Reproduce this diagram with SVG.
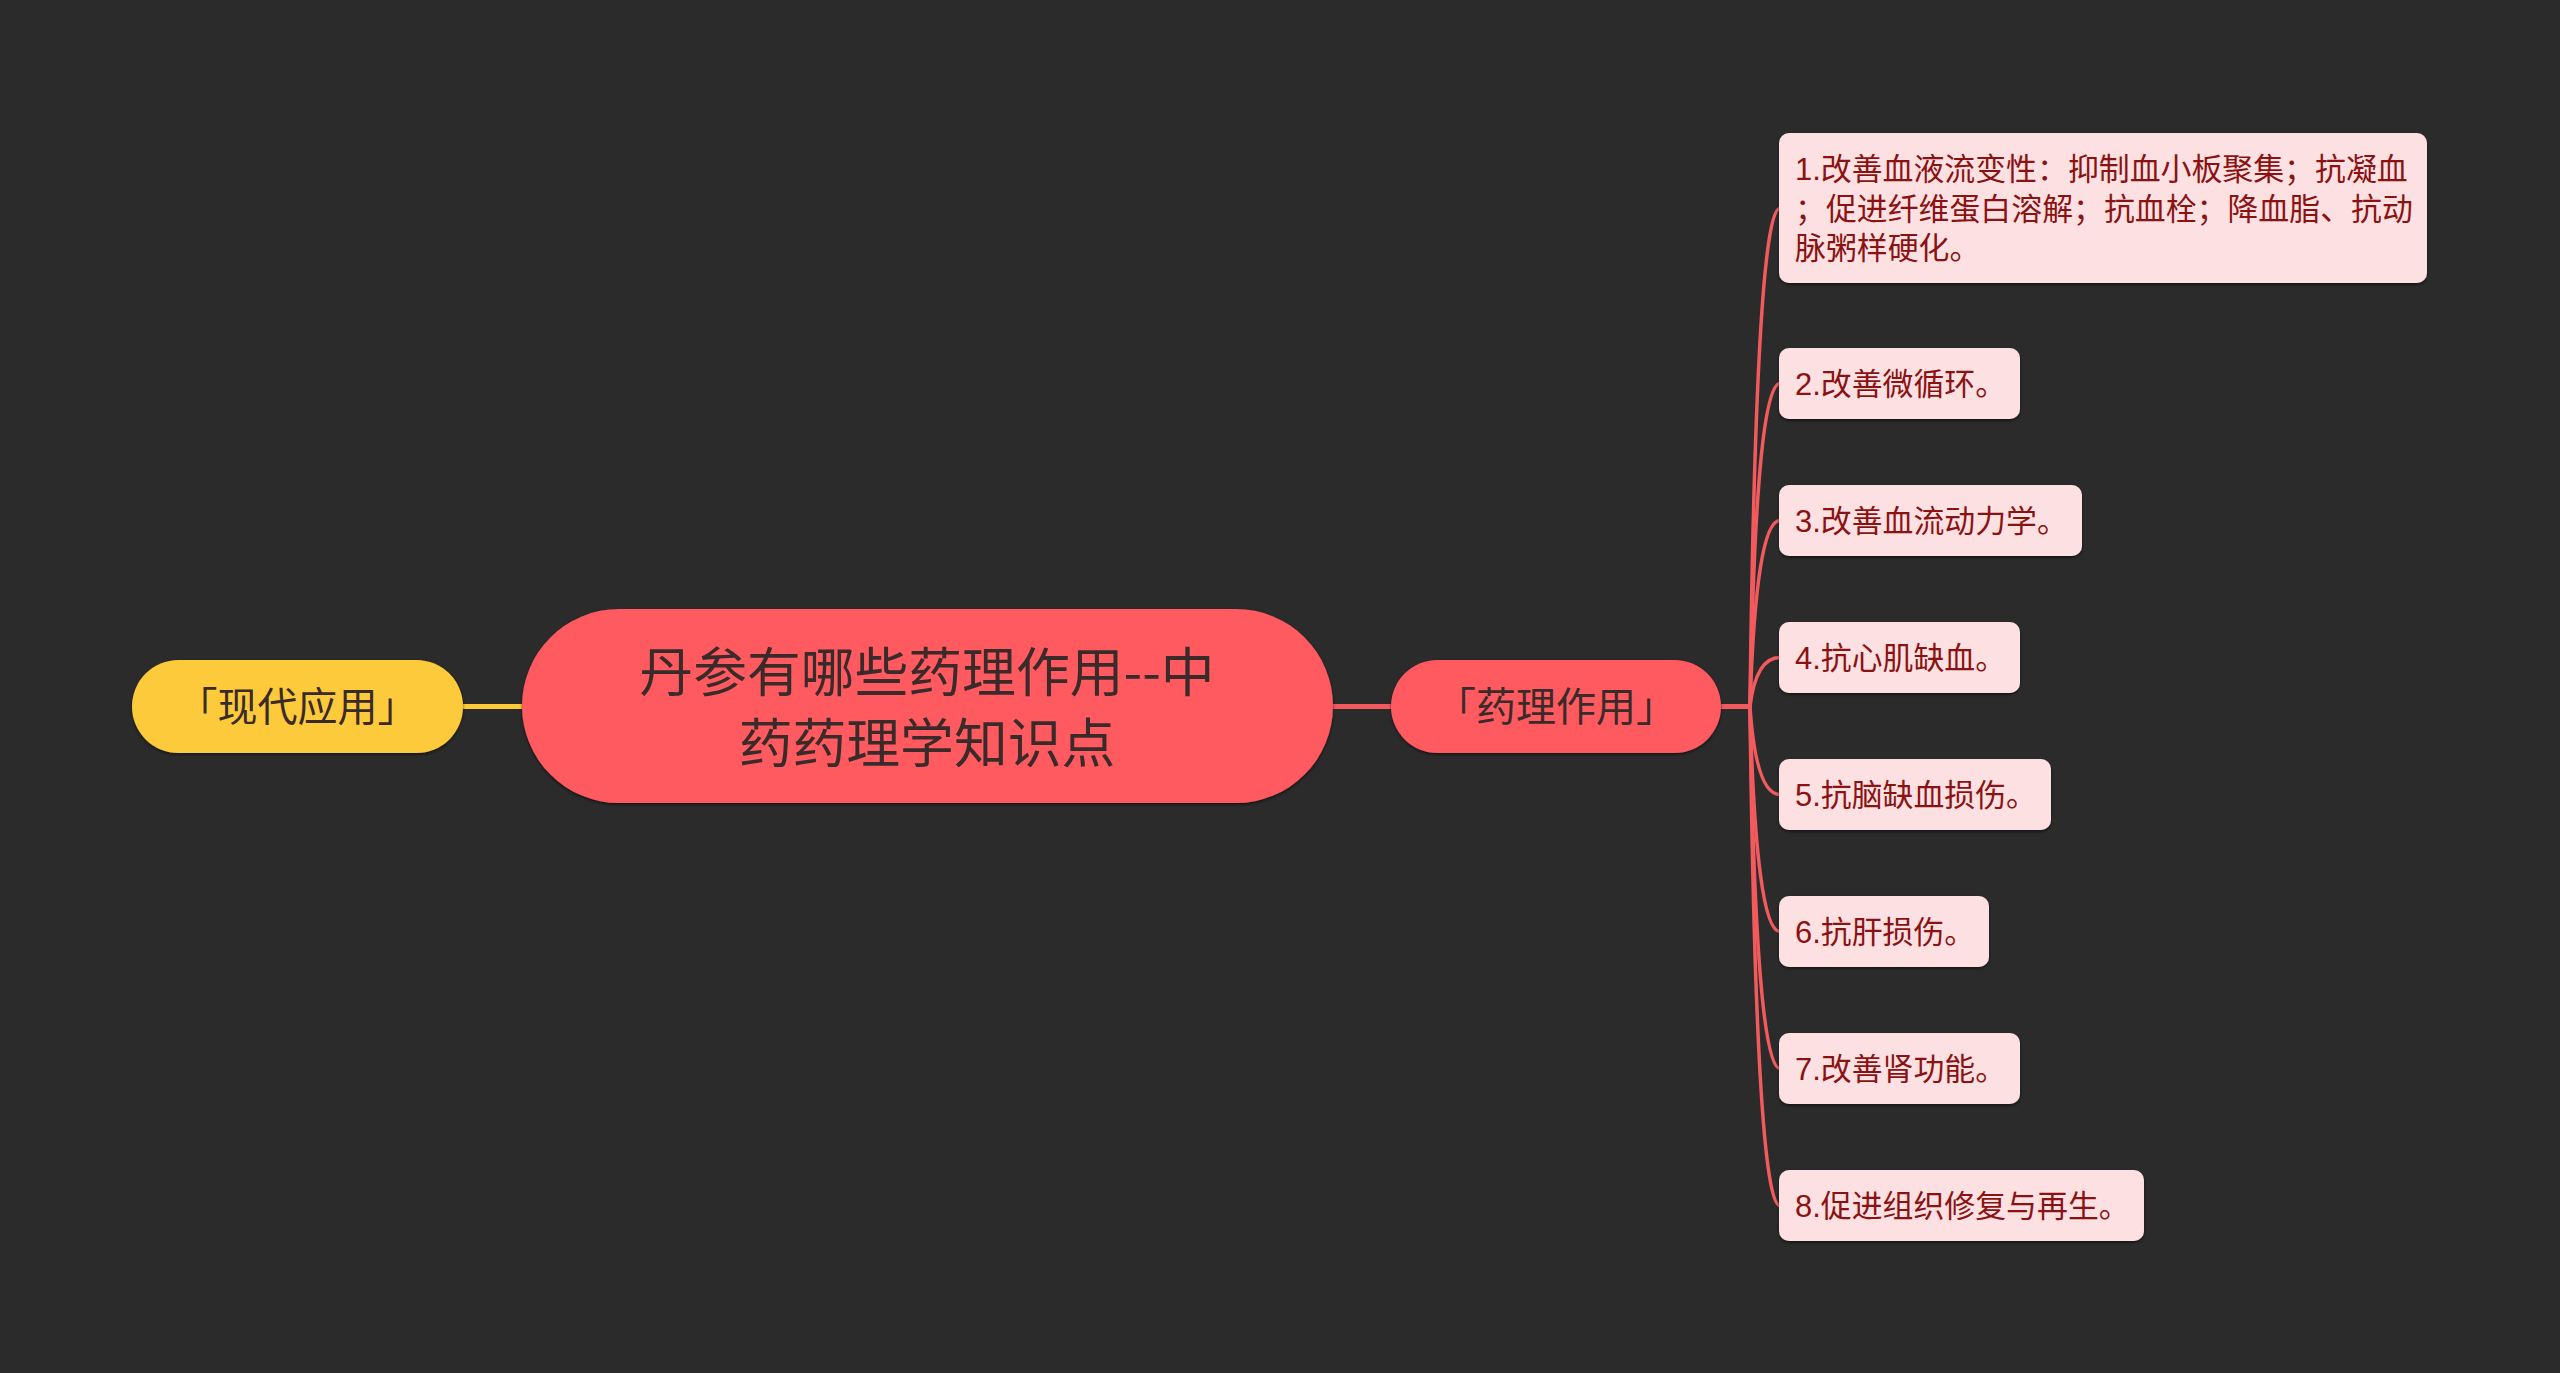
<svg xmlns="http://www.w3.org/2000/svg" width="2560" height="1373" viewBox="0 0 2560 1373">
<defs>
<style>
.bg{fill:#2b2b2b}
.root{fill:#fe5a5e}
.main{fill:#fe5a5e}
.yel{fill:#fdca3a}
.leaf{fill:#fde1e2}
.t-root{font-family:"Noto Sans CJK SC","Noto Sans",sans-serif;font-size:53.8px;fill:#3a2a2a;text-anchor:middle;dominant-baseline:central}
.t-main{font-family:"Noto Sans CJK SC","Noto Sans",sans-serif;font-size:40px;fill:#3a2a2a;text-anchor:middle;dominant-baseline:central}
.t-leaf{font-family:"Liberation Sans","Noto Sans CJK SC",sans-serif;font-size:30.9px;fill:#8b1212}
.c-red{stroke:#f25a5e;stroke-width:3.5;fill:none}
.c-redw{stroke:#f25a5e;stroke-width:5;fill:none}
.c-yel{stroke:#fdca3a;stroke-width:5;fill:none}
</style>
<filter id="sh" x="-5%" y="-10%" width="110%" height="125%">
<feDropShadow dx="0" dy="1.5" stdDeviation="1.5" flood-color="#000" flood-opacity="0.6"/>
</filter>
</defs>
<rect class="bg" x="0" y="0" width="2560" height="1373"/>
<g id="connectors">
<line class="c-yel" x1="463" y1="706.5" x2="522" y2="706.5"/>
<line class="c-redw" x1="1333" y1="706.5" x2="1391" y2="706.5"/>
<line class="c-redw" x1="1721" y1="706.5" x2="1752" y2="706.5"/>
<path class="c-red" d="M1750,706.5 Q1756,208.5 1780,208.5"/>
<path class="c-red" d="M1750,706.5 Q1756,383.5 1780,383.5"/>
<path class="c-red" d="M1750,706.5 Q1756,520.5 1780,520.5"/>
<path class="c-red" d="M1750,706.5 Q1756,657.5 1780,657.5"/>
<path class="c-red" d="M1750,706.5 Q1756,794.5 1780,794.5"/>
<path class="c-red" d="M1750,706.5 Q1756,931.5 1780,931.5"/>
<path class="c-red" d="M1750,706.5 Q1756,1068.5 1780,1068.5"/>
<path class="c-red" d="M1750,706.5 Q1756,1205.5 1780,1205.5"/>
</g>
<g id="root">
<rect class="root" x="522" y="609" width="811" height="194" rx="97" filter="url(#sh)"/>
<text class="t-root" x="927" y="668">丹参有哪些药理作用--中<tspan x="927" dy="71">药药理学知识点</tspan></text>
</g>
<g id="node-modern">
<rect class="yel" x="132" y="660" width="331" height="93" rx="46.5" filter="url(#sh)"/>
<text class="t-main" x="297.5" y="704">「现代应用」</text>
</g>
<g id="node-pharm">
<rect class="main" x="1391" y="660" width="330" height="93" rx="46.5" filter="url(#sh)"/>
<text class="t-main" x="1556" y="704">「药理作用」</text>
</g>
<g id="leaf-1">
<rect class="leaf" x="1779" y="133" width="648" height="150" rx="10" filter="url(#sh)"/>
<text class="t-leaf" x="1795" y="180">1.改善血液流变性：抑制血小板聚集；抗凝血<tspan x="1795" dy="40">；促进纤维蛋白溶解；抗血栓；降血脂、抗动</tspan><tspan x="1795" dy="39">脉粥样硬化。</tspan></text>
</g>
<g id="leaf-2">
<rect class="leaf" x="1779" y="348" width="241" height="71" rx="10" filter="url(#sh)"/>
<text class="t-leaf" x="1795" y="395">2.改善微循环。</text>
</g>
<g id="leaf-3">
<rect class="leaf" x="1779" y="485" width="303" height="71" rx="10" filter="url(#sh)"/>
<text class="t-leaf" x="1795" y="532">3.改善血流动力学。</text>
</g>
<g id="leaf-4">
<rect class="leaf" x="1779" y="622" width="241" height="71" rx="10" filter="url(#sh)"/>
<text class="t-leaf" x="1795" y="669">4.抗心肌缺血。</text>
</g>
<g id="leaf-5">
<rect class="leaf" x="1779" y="759" width="272" height="71" rx="10" filter="url(#sh)"/>
<text class="t-leaf" x="1795" y="806">5.抗脑缺血损伤。</text>
</g>
<g id="leaf-6">
<rect class="leaf" x="1779" y="896" width="210" height="71" rx="10" filter="url(#sh)"/>
<text class="t-leaf" x="1795" y="943">6.抗肝损伤。</text>
</g>
<g id="leaf-7">
<rect class="leaf" x="1779" y="1033" width="241" height="71" rx="10" filter="url(#sh)"/>
<text class="t-leaf" x="1795" y="1080">7.改善肾功能。</text>
</g>
<g id="leaf-8">
<rect class="leaf" x="1779" y="1170" width="365" height="71" rx="10" filter="url(#sh)"/>
<text class="t-leaf" x="1795" y="1217">8.促进组织修复与再生。</text>
</g>
</svg>
